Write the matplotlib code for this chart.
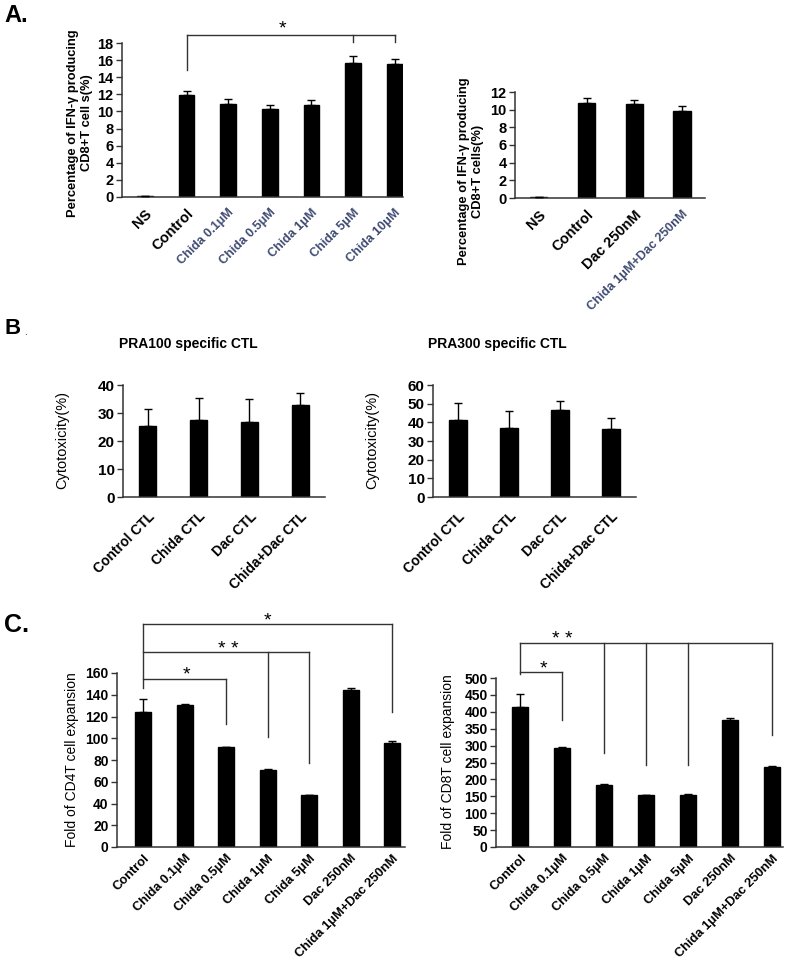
import numpy as np
import matplotlib.pyplot as plt

plt.rcParams['font.family'] = ['Liberation Sans', 'DejaVu Sans']

W, H = 797, 965

# Panel A (left): IFN-g producing CD8+ T cells, Chida doses
a1_labels = ["NS", "Control", "Chida 0.1μM", "Chida 0.5μM", "Chida 1μM", "Chida 5μM", "Chida 10μM"]
a1_vals = [0.1, 11.9, 10.9, 10.3, 10.7, 15.7, 15.5]
a1_errs = [0.0, 0.5, 0.5, 0.5, 0.6, 0.8, 0.6]

# Panel A (right): Dac combos
a2_labels = ["NS", "Control", "Dac 250nM", "Chida 1μM+Dac 250nM"]
a2_vals = [0.1, 10.8, 10.6, 9.9]
a2_errs = [0.0, 0.5, 0.5, 0.5]

# Panel B: cytotoxicity
b_labels = ["Control CTL", "Chida CTL", "Dac CTL", "Chida+Dac CTL"]
b1_vals = [25.3, 27.5, 26.7, 32.8]
b1_errs = [6.0, 7.8, 8.3, 4.2]
b2_vals = [41.3, 37.0, 46.5, 36.2]
b2_errs = [9.0, 9.3, 4.7, 6.3]

# Panel C: fold expansion
c_labels = ["Control", "Chida 0.1μM", "Chida 0.5μM", "Chida 1μM", "Chida 5μM", "Dac 250nM", "Chida 1μM+Dac 250nM"]
c1_vals = [124, 131, 91.5, 71, 47.5, 144.5, 96]
c1_errs = [12, 0.5, 0.5, 0.5, 0.3, 1.5, 1.5]
c2_vals = [413, 294, 184, 153, 154, 376, 236]
c2_errs = [40, 3, 3, 2, 2, 7, 4]

CHIDA_COLOR = '#3f4b72'
SPINE = '#333333'
LINE = '#333333'


def place(fig, x0, x1, ytop, ybot):
    return fig.add_axes([x0 / W, 1 - ybot / H, (x1 - x0) / W, (ybot - ytop) / H])


def bars(ax, labels, vals, errs, width, ymax, ystep, xlim, colored=False,
         xfs=9, yfs=10, xpad=4):
    x = np.arange(len(vals))
    ax.bar(x, vals, width, color='black', edgecolor='black', zorder=2)
    ax.errorbar(x, vals, yerr=[np.zeros(len(errs)), errs], fmt='none',
                ecolor='black', elinewidth=1, capsize=3, capthick=1, zorder=3)
    ax.set_ylim(0, ymax)
    ax.set_xlim(*xlim)
    ax.set_yticks(np.arange(0, ymax + ystep / 2, ystep))
    ax.set_xticks(x)
    ax.set_xticklabels(labels, rotation=45, ha='right', rotation_mode='anchor',
                       fontsize=xfs, fontweight='bold')
    for lab in ax.get_yticklabels():
        lab.set_fontweight('bold')
        lab.set_fontsize(yfs)
    if colored:
        for lab in ax.get_xticklabels():
            if lab.get_text().startswith('Chida'):
                lab.set_color(CHIDA_COLOR)
                lab.set_fontsize(9)
    for s in ['top', 'right']:
        ax.spines[s].set_visible(False)
    for s in ['left', 'bottom']:
        ax.spines[s].set_color(SPINE)
        ax.spines[s].set_linewidth(1.1)
    ax.tick_params(axis='x', length=0, pad=xpad)
    ax.tick_params(axis='y', length=4, width=1, color=SPINE, pad=2)


def hline(ax, x0, x1, y):
    ax.plot([x0, x1], [y, y], color=LINE, lw=1, clip_on=False)


def vline(ax, x, y0, y1):
    ax.plot([x, x], [y0, y1], color=LINE, lw=1, clip_on=False)


fig = plt.figure(figsize=(W / 100, H / 100), dpi=100)

# ---- A left
ax = place(fig, 122, 403, 43, 197)
bars(ax, a1_labels, a1_vals, a1_errs, 0.38, 18, 2, (-0.55, 6.2), colored=True,
     xfs=10.5, yfs=10.5, xpad=7)
hline(ax, 1, 6, 18.9)
vline(ax, 1, 18.9, 14.8)
vline(ax, 5, 18.9, 18.1)
vline(ax, 6, 18.9, 18.1)
ax.text(3.3, 18.6, '*', ha='center', va='bottom', fontsize=14)

fig.text(80 / W, 1 - 123 / H, "Percentage of IFN-γ producing\nCD8+T cell s(%)",
         rotation=90, ha='center', va='center', fontsize=9.3, fontweight='bold',
         linespacing=1.3)

# ---- A right
ax = place(fig, 515, 705, 92, 198)
bars(ax, a2_labels, a2_vals, a2_errs, 0.36, 12, 2, (-0.5, 3.48), colored=True,
     xfs=10.5, yfs=10.5, xpad=7)
fig.text(471 / W, 1 - 171 / H, "Percentage of IFN-γ producing\nCD8+T cells(%)",
         rotation=90, ha='center', va='center', fontsize=9.3, fontweight='bold',
         linespacing=1.3)

# ---- B left
ax = place(fig, 123, 325, 385, 497)
bars(ax, b_labels, b1_vals, b1_errs, 0.34, 40, 10, (-0.49, 3.49),
     xfs=10, yfs=11, xpad=9)
fig.text(188 / W, 1 - 344 / H, "PRA100 specific CTL", ha='center', va='center',
         fontsize=10, fontweight='bold')
fig.text(62 / W, 1 - 440 / H, "Cytotoxicity(%)", rotation=90, ha='center', va='center',
         fontsize=10.5)

# ---- B right
ax = place(fig, 433, 636, 385, 497)
bars(ax, b_labels, b2_vals, b2_errs, 0.34, 60, 10, (-0.49, 3.49),
     xfs=10, yfs=11, xpad=9)
fig.text(497 / W, 1 - 344 / H, "PRA300 specific CTL", ha='center', va='center',
         fontsize=10, fontweight='bold')
fig.text(372 / W, 1 - 440 / H, "Cytotoxicity(%)", rotation=90, ha='center', va='center',
         fontsize=10.5)

# ---- C left
ax = place(fig, 117, 405, 673, 847)
bars(ax, c_labels, c1_vals, c1_errs, 0.39, 160, 20, (-0.63, 6.31), xfs=9.3, yfs=10)
# top bracket *
hline(ax, 0, 6, 205)
vline(ax, 0, 205, 146)
vline(ax, 6, 205, 124)
ax.text(3.0, 200, '*', ha='center', va='bottom', fontsize=14)
# ** bracket
hline(ax, 0, 4, 179)
vline(ax, 3, 179, 101)
vline(ax, 4, 179, 77)
ax.text(2.05, 174, '* *', ha='center', va='bottom', fontsize=14)
# short * bracket
hline(ax, 0, 2, 154.5)
vline(ax, 2, 154.5, 113)
ax.text(1.05, 150, '*', ha='center', va='bottom', fontsize=14)
fig.text(72 / W, 1 - 760 / H, "Fold of CD4T cell expansion", rotation=90,
         ha='center', va='center', fontsize=10)

# ---- C right
ax = place(fig, 496, 783, 678, 847)
bars(ax, c_labels, c2_vals, c2_errs, 0.38, 500, 50, (-0.57, 6.26), xfs=9.3, yfs=10)
# ** bracket
hline(ax, 0, 6, 604)
vline(ax, 0, 604, 511)
for dx, dy in [(2, 278), (3, 243), (4, 243), (6, 331)]:
    vline(ax, dx, 604, dy)
ax.text(1.0, 588, '* *', ha='center', va='bottom', fontsize=14)
# * bracket
hline(ax, 0, 1, 518)
vline(ax, 1, 518, 376)
ax.text(0.55, 503, '*', ha='center', va='bottom', fontsize=14)
fig.text(448 / W, 1 - 762 / H, "Fold of CD8T cell expansion", rotation=90,
         ha='center', va='center', fontsize=10)

# panel letters
fig.text(4 / W, 1 - 16 / H, "A.", ha='left', va='center', fontsize=17, fontweight='bold')
fig.text(4 / W, 1 - 328 / H, "B", ha='left', va='center', fontsize=16, fontweight='bold')
fig.text(24 / W, 1 - 332 / H, ".", ha='left', va='center', fontsize=7)
fig.text(4 / W, 1 - 625 / H, "C.", ha='left', va='center', fontsize=18, fontweight='bold')

fig.savefig('out.png', dpi=100)
